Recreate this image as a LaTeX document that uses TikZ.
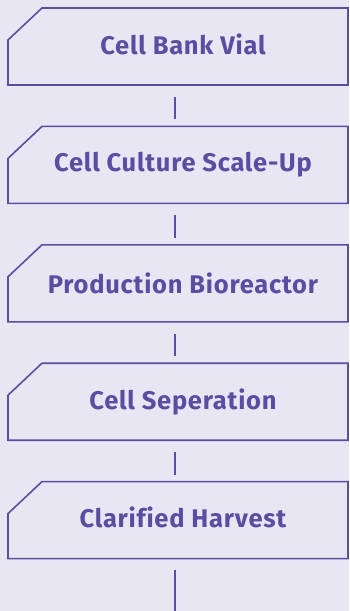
\documentclass[tikz,border=0pt]{standalone}
\usepackage{fontspec}
\setmainfont{Fira Sans}
\newfontfamily\stepfont[LetterSpace=3, Ligatures=NoCommon]{Fira Sans}
\usetikzlibrary{positioning}
\definecolor{bgcol}{HTML}{E8E6F2}
\definecolor{linecol}{HTML}{5A4EA3}

\begin{document}
\begin{tikzpicture}[x=1pt, y=1pt,
stepbox/.style={rectangle, minimum width=340pt, minimum height=77pt,
  outer sep=0pt, inner sep=0pt, text=linecol,
  font=\stepfont\fontsize{25.5}{30}\selectfont\bfseries},
outline/.style={draw=linecol, line width=1.6pt, line join=miter},
link/.style={draw=linecol, line width=1.6pt},
node distance=41.4pt
]
\fill[bgcol] (0,0) rectangle (349,-611);
\useasboundingbox (0,0) rectangle (349,-611);
\node[stepbox] (vial) at (178,-46.5) {\hspace*{10pt}Cell Bank Vial\vphantom{p}};
\node[stepbox, below=of vial] (scaleup) {\hspace*{10pt}Cell Culture Scale-Up};
\node[stepbox, below=of scaleup] (reactor) {\hspace*{10pt}Production Bioreactor};
\node[stepbox, below=of reactor] (separation) {\hspace*{10pt}Cell Seperation};
\node[stepbox, below=of separation] (harvest) {\hspace*{10pt}Clarified Harvest\vphantom{p}};
\coordinate (bottom) at (175,-611);
% chamfered outlines
\foreach \n in {vial, scaleup, reactor, separation, harvest}
  \draw[outline] (\n.south west) -- ([yshift=-32pt]\n.north west) -- ([xshift=34pt]\n.north west)
    -- (\n.north east) -- (\n.south east) -- cycle;
\foreach \a/\b in {vial/scaleup, scaleup/reactor, reactor/separation, separation/harvest}
  \draw[link] ([xshift=-3pt, yshift=-12pt]\a.south) -- ([xshift=-3pt, yshift=7pt]\b.north);
\draw[link] ([xshift=-3pt, yshift=-11pt]harvest.south) -- (bottom);
\end{tikzpicture}
\end{document}
